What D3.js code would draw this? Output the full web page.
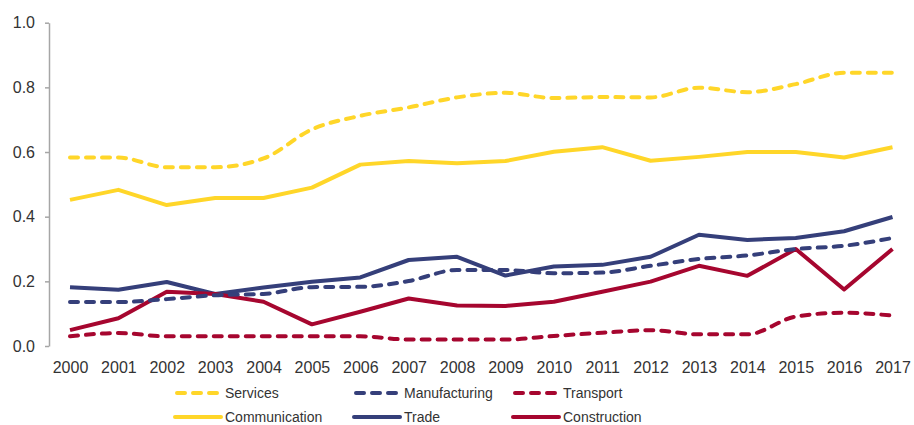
<!DOCTYPE html>
<html>
<head>
<meta charset="utf-8">
<title>Sector shares 2000-2017</title>
<script src="https://d3js.org/d3.v7.min.js"></script>
<style>
  body { margin: 0; background: #fff; }
  text { font-family: "Liberation Sans", Arial, Helvetica, sans-serif; fill: #333; }
</style>
</head>
<body>
<div id="chart"></div>
<script>
// data
var years = [2000, 2001, 2002, 2003, 2004, 2005, 2006, 2007, 2008, 2009, 2010, 2011, 2012, 2013, 2014, 2015, 2016, 2017];
var yTicks = [0, 0.2, 0.4, 0.6, 0.8, 1.0];

var services      = [0.583, 0.583, 0.553, 0.553, 0.580, 0.670, 0.712, 0.738, 0.769, 0.783, 0.767, 0.770, 0.769, 0.799, 0.785, 0.810, 0.845, 0.845];
var communication = [0.452, 0.483, 0.436, 0.458, 0.458, 0.490, 0.561, 0.572, 0.565, 0.572, 0.601, 0.615, 0.573, 0.585, 0.600, 0.600, 0.583, 0.615];
var manufacturing = [0.136, 0.136, 0.145, 0.157, 0.161, 0.182, 0.183, 0.201, 0.235, 0.235, 0.225, 0.227, 0.248, 0.269, 0.280, 0.300, 0.310, 0.334];
var trade         = [0.182, 0.174, 0.198, 0.161, 0.181, 0.199, 0.212, 0.266, 0.276, 0.218, 0.246, 0.251, 0.276, 0.344, 0.328, 0.334, 0.355, 0.399];
var transport     = [0.030, 0.040, 0.030, 0.030, 0.030, 0.030, 0.030, 0.020, 0.020, 0.020, 0.031, 0.041, 0.049, 0.036, 0.036, 0.091, 0.103, 0.094];
var construction  = [0.049, 0.086, 0.168, 0.161, 0.137, 0.067, 0.106, 0.147, 0.125, 0.124, 0.137, 0.168, 0.199, 0.248, 0.217, 0.300, 0.175, 0.300];

var yellow = "#ffd629", navy = "#353f7a", red = "#a6062f";

// legend order = row by row
var series = [
  { name: "Services",      values: services,      color: yellow, dashed: true },
  { name: "Manufacturing", values: manufacturing, color: navy,   dashed: true },
  { name: "Transport",     values: transport,     color: red,    dashed: true },
  { name: "Communication", values: communication, color: yellow, dashed: false },
  { name: "Trade",         values: trade,         color: navy,   dashed: false },
  { name: "Construction",  values: construction,  color: red,    dashed: false }
];

var width = 914, height = 425;

var svg = d3.select("#chart").append("svg")
  .attr("width", width)
  .attr("height", height);

var x = d3.scaleLinear().domain([2000, 2017]).range([70, 892.5]);
var y = d3.scaleLinear().domain([0, 1]).range([346, 22.7]);

// y axis
var yAxis = svg.append("g")
  .attr("transform", "translate(49,0)")
  .call(d3.axisLeft(y).tickValues(yTicks).tickFormat(d3.format(".1f")).tickSize(4).tickSizeOuter(0));
yAxis.select(".domain").attr("stroke", "#a6a6a6").attr("stroke-width", 1.5);
yAxis.selectAll(".tick line").attr("stroke", "#a6a6a6").attr("stroke-width", 1.5);
yAxis.selectAll(".tick text")
  .attr("x", -14)
  .style("font-size", "16px")
  .style("font-family", "'Liberation Sans', Arial, sans-serif")
  .attr("fill", "#333");

// x labels (no axis line)
var xAxis = svg.append("g")
  .attr("transform", "translate(0,346)")
  .call(d3.axisBottom(x).tickValues(years).tickFormat(d3.format("d")).tickSize(0));
xAxis.select(".domain").remove();
xAxis.selectAll(".tick text")
  .attr("y", 15.5)
  .style("font-size", "16px")
  .style("font-family", "'Liberation Sans', Arial, sans-serif")
  .attr("fill", "#333");

var smooth = d3.line()
  .x(function(d, i) { return x(years[i]); })
  .y(function(d) { return y(d); })
  .curve(d3.curveMonotoneX);
var straight = d3.line()
  .x(function(d, i) { return x(years[i]); })
  .y(function(d) { return y(d); });

// draw solid first, then dashed on top
var drawOrder = [3, 4, 5, 0, 1, 2];
drawOrder.forEach(function(k) {
  var s = series[k];
  svg.append("path")
    .datum(s.values)
    .attr("fill", "none")
    .attr("stroke", s.color)
    .attr("stroke-width", 4)
    .attr("stroke-linejoin", "round")
    .attr("stroke-linecap", s.dashed ? "round" : "butt")
    .attr("stroke-dasharray", s.dashed ? "8,8" : null)
    .attr("d", s.dashed ? smooth(s.values) : straight(s.values));
});

// legend
var legX = [175, 354, 513];
var legY = [393, 417];
series.forEach(function(s, i) {
  var col = i % 3, row = Math.floor(i / 3);
  var g = svg.append("g").attr("transform", "translate(" + legX[col] + "," + legY[row] + ")");
  g.append("line")
    .attr("x1", s.dashed ? 2 : 0)
    .attr("x2", s.dashed ? 42 : 46)
    .attr("y1", 0).attr("y2", 0)
    .attr("stroke", s.color)
    .attr("stroke-width", 4)
    .attr("stroke-linecap", "round")
    .attr("stroke-dasharray", s.dashed ? "8,8" : null);
  g.append("text")
    .attr("x", 50)
    .attr("y", 0)
    .attr("dy", "0.35em")
    .style("font-size", "14px")
    .text(s.name);
});
</script>
</body>
</html>
